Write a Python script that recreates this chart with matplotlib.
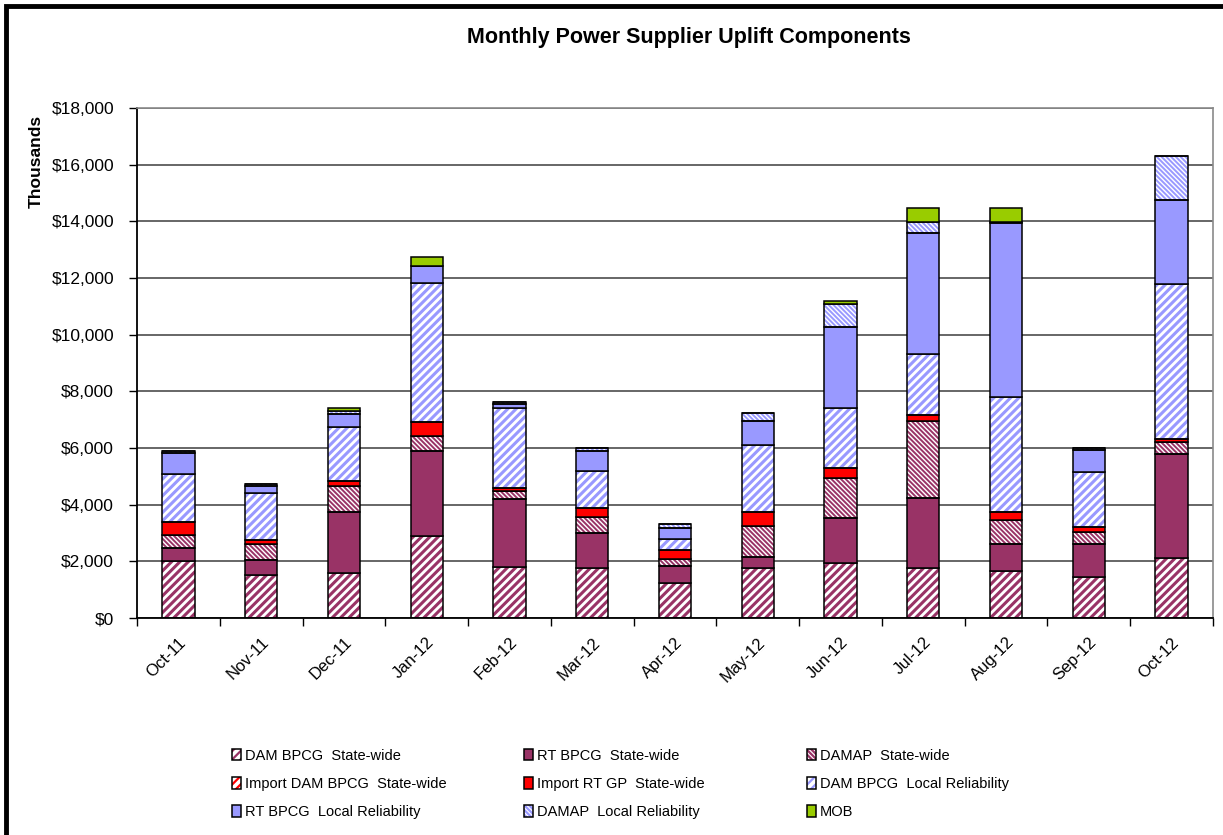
import numpy as np
import matplotlib
matplotlib.use("Agg")
import matplotlib.pyplot as plt
from matplotlib.patches import Patch, Rectangle
from matplotlib.ticker import FuncFormatter, MultipleLocator
from matplotlib.legend_handler import HandlerTuple

plt.rcParams['font.family'] = ['Liberation Sans', 'DejaVu Sans']
plt.rcParams['hatch.linewidth'] = 1.6

# 데이터 (단위: 천 달러)
months = ['Oct-11', 'Nov-11', 'Dec-11', 'Jan-12', 'Feb-12', 'Mar-12', 'Apr-12',
          'May-12', 'Jun-12', 'Jul-12', 'Aug-12', 'Sep-12', 'Oct-12']

dam_bpcg_sw = [2020, 1507, 1600, 2894, 1789, 1754, 1246, 1754, 1952, 1754, 1659, 1458, 2128]
rt_bpcg_sw = [440, 529, 2153, 3011, 2400, 1235, 589, 410, 1567, 2471, 953, 1143, 3650]
damap_sw = [480, 565, 906, 519, 283, 586, 237, 1094, 1433, 2739, 847, 445, 423]
import_dam_sw = [0, 0, 0, 0, 0, 0, 0, 0, 0, 0, 0, 0, 0]
import_rt_sw = [437, 152, 188, 483, 106, 318, 328, 494, 332, 201, 294, 176, 106]
dam_bpcg_lr = [1705, 1669, 1882, 4906, 2823, 1295, 388, 2354, 2117, 2153, 4036, 1920, 5471]
rt_bpcg_lr = [730, 237, 471, 611, 141, 706, 378, 858, 2880, 4260, 6142, 787, 2975]
damap_lr = [93, 60, 106, 0, 71, 95, 141, 282, 812, 388, 57, 60, 1563]
mob = [0, 0, 94, 307, 0, 0, 0, 0, 95, 516, 494, 0, 0]

maroon = '#993366'
blue = '#9999FF'
red = '#FF0000'
green = '#99CC00'

wide = '////'
dense = '\\' * 7

# (label, values, facecolor, hatch, hatch color, hatch linewidth)
series = [
    ('DAM BPCG  State-wide', dam_bpcg_sw, 'white', wide, maroon, 2.2),
    ('RT BPCG  State-wide', rt_bpcg_sw, maroon, None, None, 0),
    ('DAMAP  State-wide', damap_sw, 'white', dense, maroon, 1.4),
    ('Import DAM BPCG  State-wide', import_dam_sw, 'white', wide, red, 2.2),
    ('Import RT GP  State-wide', import_rt_sw, red, None, None, 0),
    ('DAM BPCG  Local Reliability', dam_bpcg_lr, 'white', wide, blue, 2.2),
    ('RT BPCG  Local Reliability', rt_bpcg_lr, blue, None, None, 0),
    ('DAMAP  Local Reliability', damap_lr, 'white', dense, blue, 1.4),
    ('MOB', mob, green, None, None, 0),
]

fig = plt.figure(figsize=(12.23, 8.35), dpi=100)
ax = fig.add_axes([137 / 1223, 1 - 618 / 835, (1213 - 137) / 1223, (618 - 108) / 835])

x = np.arange(len(months))
width = 0.39
bottom = np.zeros(len(months))
handles = []
for label, vals, face, hatch, hcol, hlw in series:
    vals = np.array(vals, dtype=float)
    if hatch:
        bars = ax.bar(x, vals, width, bottom=bottom, color=face, hatch=hatch,
                      edgecolor=hcol, linewidth=0, zorder=2)
        ax.bar(x, vals, width, bottom=bottom, fill=False, edgecolor='black',
               linewidth=1.1, zorder=3)
        hp = Patch(facecolor=face, hatch=hatch, edgecolor=hcol, linewidth=0)
        for b in list(bars) + [hp]:
            if hasattr(b, 'set_hatch_linewidth'):
                b.set_hatch_linewidth(hlw)
        h = (hp, Patch(fill=False, edgecolor='black', linewidth=1.1))
    else:
        ax.bar(x, vals, width, bottom=bottom, color=face, edgecolor='black',
               linewidth=1.1, zorder=3)
        h = Patch(facecolor=face, edgecolor='black', linewidth=1.1)
    handles.append((h, label))
    bottom += vals

ax.set_xlim(-0.5, len(months) - 0.5)
ax.set_ylim(0, 18000)
ax.yaxis.set_major_locator(MultipleLocator(2000))
ax.yaxis.set_major_formatter(FuncFormatter(lambda v, p: f"${v:,.0f}"))
ax.grid(axis='y', color='#5a5a5a', linewidth=1.3, zorder=0)
ax.set_axisbelow(True)

# 눈금: 경계에 major, 라벨은 minor
ax.set_xticks(np.arange(len(months) + 1) - 0.5)
ax.set_xticklabels([])
ax.set_xticks(x, minor=True)
ax.set_xticklabels(months, minor=True, rotation=45, ha='right',
                   rotation_mode='anchor', fontsize=12)
ax.tick_params(axis='x', which='major', length=6, width=1, direction='out')
ax.tick_params(axis='x', which='minor', length=0, pad=12)
ax.tick_params(axis='y', length=6, width=1, direction='out', pad=10.5, labelsize=12.5)

for s in ['left', 'bottom']:
    ax.spines[s].set_color('black')
    ax.spines[s].set_linewidth(1.3)
for s in ['top', 'right']:
    ax.spines[s].set_color('#8a8a8a')
    ax.spines[s].set_linewidth(1.2)

fig.text(689 / 1223, 1 - 37 / 835, 'Monthly Power Supplier Uplift Components',
         ha='center', va='center', fontsize=15.5, fontweight='bold')
fig.text(36 / 1223, 1 - 161 / 835, 'Thousands', rotation=90, ha='center',
         va='center', fontsize=12.5, fontweight='bold')

# 범례 3열 (행 순서대로)
col_x = [232, 524, 807]
for c in range(3):
    items = handles[c::3]
    fig.legend([i[0] for i in items], [i[1] for i in items],
               loc='center left', bbox_to_anchor=(col_x[c] / 1223, 1 - 784 / 835),
               frameon=False, fontsize=10.5, borderpad=0, borderaxespad=0,
               handlelength=0.65, handleheight=0.85, handletextpad=0.25,
               labelspacing=0.98,
               handler_map={tuple: HandlerTuple(ndivide=1)})

# 바깥 테두리
fig.add_artist(Rectangle((5.5 / 1223, -0.1), 1.2, 1.1 - 5.5 / 835,
                         transform=fig.transFigure, fill=False,
                         edgecolor='black', linewidth=3.5))

fig.savefig('out.png', dpi=100)
